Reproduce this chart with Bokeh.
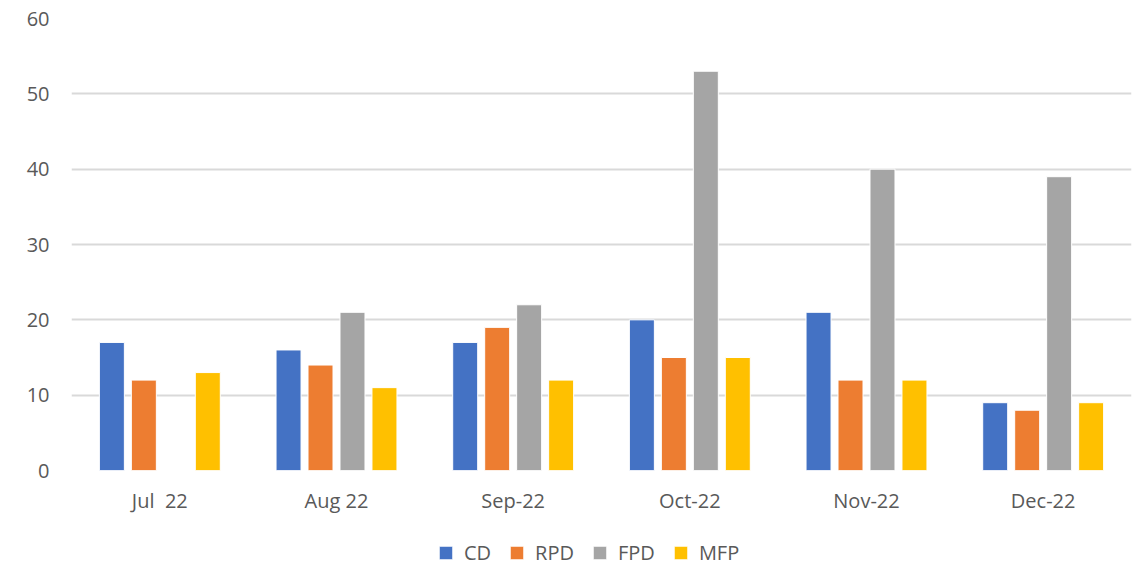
import numpy as np
from bokeh.plotting import figure
from bokeh.layouts import column
from bokeh.models import (ColumnDataSource, FactorRange, Range1d, Legend,
                          LegendItem, FixedTicker)
from bokeh.transform import dodge
from bokeh.embed import file_html
from bokeh.resources import INLINE

months = ["Jul\u00a0 22", "Aug 22", "Sep-22", "Oct-22", "Nov-22", "Dec-22"]
cd = [17, 16, 17, 20, 21, 9]
rpd = [12, 14, 19, 15, 12, 8]
fpd = [np.nan, 21, 22, 53, 40, 39]
mfp = [13, 11, 12, 15, 12, 9]
series = ["CD", "RPD", "FPD", "MFP"]
colors = ["#4472C4", "#ED7D31", "#A5A5A5", "#FFC000"]
y_ticks = [0, 10, 20, 30, 40, 50, 60]

source = ColumnDataSource(data=dict(month=months, CD=cd, RPD=rpd, FPD=fpd, MFP=mfp))

FONT = "Open Sans"
TXT = "#595959"
FS = "20px"

p = figure(width=1139, height=528, x_range=FactorRange(*months),
           y_range=Range1d(0, 60), output_backend="svg", toolbar_location=None,
           min_border_left=71, min_border_right=8, min_border_top=18,
           min_border_bottom=58)
p.outline_line_color = None

pitch = 0.181
offsets = [-1.5 * pitch, -0.5 * pitch, 0.5 * pitch, 1.5 * pitch]
for s, c, off in zip(series, colors, offsets):
    p.vbar(x=dodge("month", off, range=p.x_range), top=s, width=0.1415,
           source=source, fill_color=c, line_color="white", line_width=1)

p.xgrid.grid_line_color = None
p.ygrid.grid_line_color = "#D9D9D9"
p.ygrid.grid_line_width = 2
p.yaxis.ticker = FixedTicker(ticks=y_ticks)

for ax in (p.xaxis, p.yaxis):
    ax.axis_line_color = None
    ax.major_tick_line_color = None
    ax.minor_tick_line_color = None
    ax.major_tick_out = 0
    ax.major_tick_in = 0
    ax.major_label_text_font = FONT
    ax.major_label_text_font_size = FS
    ax.major_label_text_color = TXT
p.yaxis.major_label_standoff = 22
p.xaxis.major_label_standoff = 16

# legend strip below the chart (its bars lie outside its visible y range)
q = figure(width=1139, height=38, x_range=p.x_range, y_range=Range1d(1000, 1001),
           output_backend="svg", toolbar_location=None,
           min_border_left=0, min_border_right=0, min_border_top=0, min_border_bottom=0)
q.outline_line_color = None
q.axis.visible = False
q.grid.visible = False
items = []
for s, c, off in zip(series, colors, offsets):
    r = q.vbar(x=dodge("month", off, range=q.x_range), top=s, width=0.1415,
               source=source, fill_color=c, line_color="white", line_width=1)
    items.append(LegendItem(label=s, renderers=[r]))

legend = Legend(items=items, orientation="horizontal", location=(366, 0),
                glyph_width=17, glyph_height=17, label_standoff=10, spacing=17,
                padding=0, margin=0, border_line_color=None, background_fill_alpha=0,
                label_text_font=FONT, label_text_font_size=FS,
                label_text_color=TXT)
q.add_layout(legend, "center")

open("out.html", "w").write(file_html(column(p, q, spacing=0), INLINE))
